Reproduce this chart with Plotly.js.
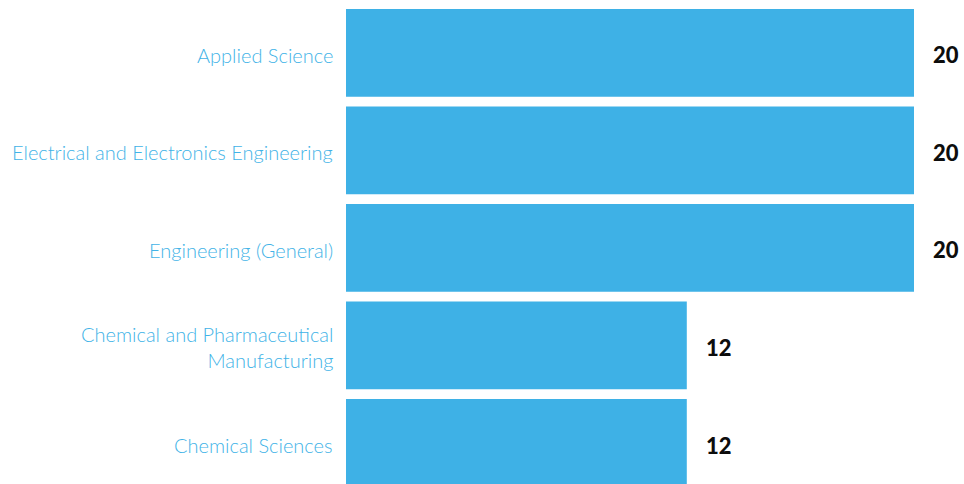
<!DOCTYPE html>
<html>
<head>
<meta charset="utf-8">
<script src="https://cdn.plot.ly/plotly-3.0.1.min.js"></script>
<style>html,body{margin:0;padding:0;background:#fff;overflow:hidden}</style>
</head>
<body>
<div id="chart" style="width:964px;height:484px"></div>
<script>
const categories = ["Applied Science", "Electrical and Electronics Engineering", "Engineering (General)", "Chemical and Pharmaceutical<br>Manufacturing", "Chemical Sciences"];
const values = [20, 20, 20, 12, 12];
const valueLabels = ["20", "20", "20", "12", "12"];

const trace = {
  type: 'bar',
  orientation: 'h',
  y: categories,
  x: values,
  marker: {color: '#3EB1E6'},
  width: 0.9,
  hoverinfo: 'none'
};

const valueAnnotations = categories.map((c, i) => ({
  x: values[i], y: c, xref: 'x', yref: 'y',
  text: valueLabels[i], showarrow: false,
  xanchor: 'left', xshift: 17, yshift: -2,
  font: {family: 'Lato, "Open Sans", sans-serif', size: 22, color: '#0d0d0d', weight: 900}
}));

const labelAnnotations = categories.map((c) => ({
  x: 0, y: c, xref: 'x', yref: 'y',
  text: c, showarrow: false,
  xanchor: 'right', align: 'right', xshift: -11, yshift: -2,
  font: {family: 'Lato, "Open Sans", sans-serif', size: 20, color: '#42B3E7', weight: 300}
}));

const layout = {
  width: 964, height: 484,
  margin: {l: 346, r: 50, t: 4, b: 0},
  paper_bgcolor: '#ffffff', plot_bgcolor: '#ffffff',
  showlegend: false,
  xaxis: {range: [0, 20], visible: false, fixedrange: true},
  yaxis: {
    type: 'category',
    range: [4.42, -0.5],
    showgrid: false, zeroline: false, showline: false, ticks: '',
    showticklabels: false
  },
  annotations: valueAnnotations.concat(labelAnnotations)
};

Plotly.newPlot('chart', [trace], layout, {displayModeBar: false, staticPlot: true});
</script>
</body>
</html>
